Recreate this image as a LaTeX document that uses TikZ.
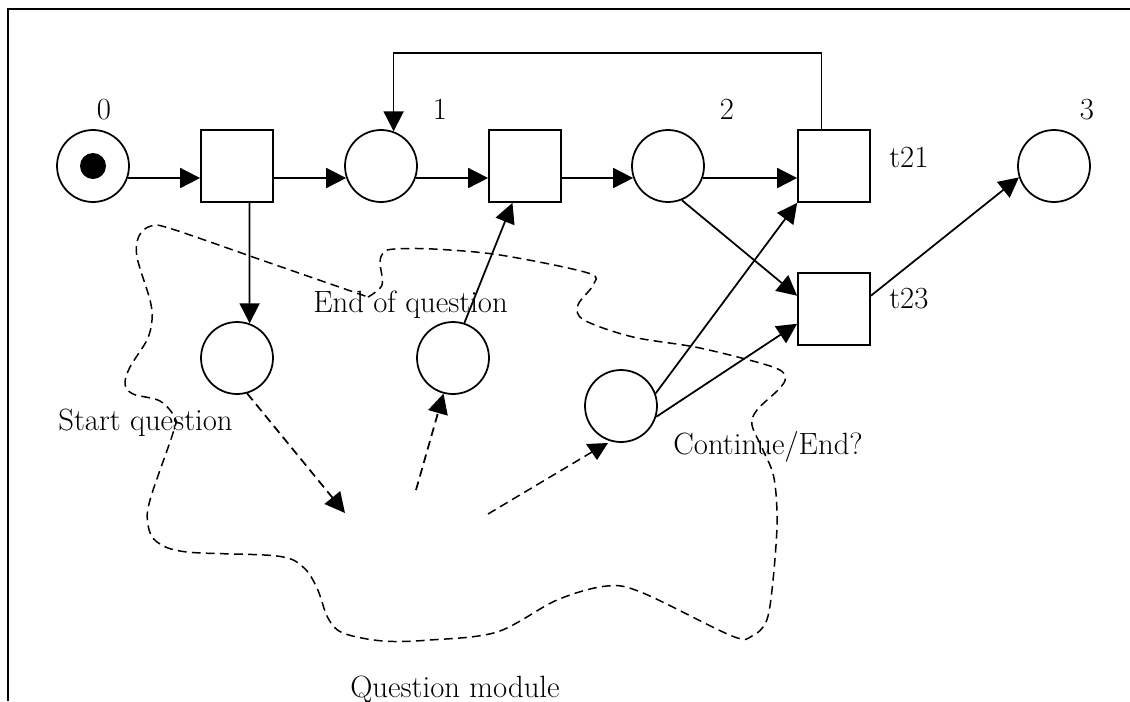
\documentclass[tikz,border=0pt]{standalone}
\usetikzlibrary{arrows.meta,calc}
\begin{document}
\begin{tikzpicture}[x=0.02cm,y=-0.02cm,
  place/.style={draw,circle,line width=1pt,minimum size=1.44cm,inner sep=0pt},
  trans/.style={draw,rectangle,line width=1pt,minimum size=1.44cm,inner sep=0pt},
  arc/.style={line width=1pt,-{Triangle[length=0.4cm,width=0.4cm]}},
  darc/.style={arc,dash pattern=on 5pt off 3pt},
  blob/.style={line width=0.85pt,dash pattern=on 5pt off 3pt},
  lbl/.style={inner sep=0pt,font=\fontsize{17.5}{20}\selectfont}]
\useasboundingbox (0,0) rectangle (1130,701);

% frame
\draw[line width=1.2pt] (8,701) -- (8,9) -- (1130,9);

% places and transitions of the net
\node[place] (p0) at (93,166) {};
\node[circle,fill,minimum size=0.52cm,inner sep=0pt] (tok) at (p0) {};
\node[trans] (t1) at (237,166) {};
\node[place] (p1) at (381,166) {};
\node[trans] (t2) at (525,166) {};
\node[place] (p2) at (668,166) {};
\node[trans] (t21) at (834,166) {};
\node[place] (p3) at (1054,166) {};
\node[trans] (t23) at (834,309) {};
\node[place] (a) at (237,358) {};
\node[place] (b) at (453,358) {};
\node[place] (c) at (621,406) {};

% labels
\node[lbl,anchor=base] (l0) at (104,119) {0};
\node[lbl,anchor=base] (l1) at (440,119) {1};
\node[lbl,anchor=base] (l2) at (727,119) {2};
\node[lbl,anchor=base] (l3) at (1087,119) {3};
\node[lbl,anchor=base west] (lt21) at (889,167) {t21};
\node[lbl,anchor=base west] (lt23) at (889,308) {t23};
\node[lbl,anchor=base west] (leq) at (313,312) {End of question};
\node[lbl,anchor=base east] (lsq) at (233,430) {Start question};
\node[lbl,anchor=base west] (lce) at (673,454) {Continue/End?};
\node[lbl,anchor=base] (lqm) at (455,697) {Question module};

% main line of arcs
\draw[arc] (p0.-19.5) -- (p0.-19.5 -| t1.west);
\draw[arc] (t1.east |- p1.199.5) -- (p1.199.5);
\draw[arc] (p1.-19.5) -- (p1.-19.5 -| t2.west);
\draw[arc] (t2.east |- p2.199.5) -- (p2.199.5);
\draw[arc] (p2.-19.5) -- (p2.-19.5 -| t21.west);

% loop back from t21 to place 1
\draw[arc] ($(t21.north west)!0.33!(t21.north east)$) -- ++(0,-76) -| (p1.70.5);

% remaining arcs
\draw[arc] ($(t1.south west)!0.67!(t1.south east)$) -- (a.70.5);
\draw[arc] (b.72.6) -- ($(t2.south west)!0.33!(t2.south east)$);
\draw[arc] (c.20) -- (t21.south west);
\draw[arc] (c.-17.5) -- ($(t23.south west)!0.3!(t23.north west)$);
\draw[arc] (p2.-68) -- ($(t23.north west)!0.32!(t23.south west)$);
\draw[arc] ($(t23.north east)!0.32!(t23.south east)$) -- (p3.198);

% question module outline
\draw[blob] plot[smooth,tension=0.55] coordinates {(368,297) (382,285) (380,262) (384,252) (395,249) (433,249) (500,255) (588,273) (593,285) (578,305) (584,320) (633,337) (700,348) (773,367) (785,378) (779,389) (757,410) (752,425) (763,450) (774,478) (777,525) (772,590) (766,622) (752,636) (732,636) (643,593) (607,586) (557,600) (497,632) (430,640) (383,641) (343,633) (328,618) (317,588) (303,567) (277,556) (187,552) (157,542) (148,525) (150,500) (173,433) (175,418) (160,401) (133,394) (125,384) (130,367) (147,340) (152,320) (150,300) (137,257) (139,236) (151,226) (172,229) (270,263) (368,297)};

% dashed links into and out of the module
\coordinate (qa) at (345,513);
\coordinate (qb) at (416,490);
\coordinate (qc) at (488,514);
\draw[darc] (a.-74) -- (qa);
\draw[darc] (qb) -- (b.-105);
\coordinate (ct) at ($(c.center)+(-24,37)$);
\draw[blob] (qc) -- ($(ct)+(-5,9)$);
\fill ($(ct)+(-11,1)$) -- ($(ct)+(11,0)$) -- ($(ct)+(0,17)$) -- cycle;
\end{tikzpicture}
\end{document}
